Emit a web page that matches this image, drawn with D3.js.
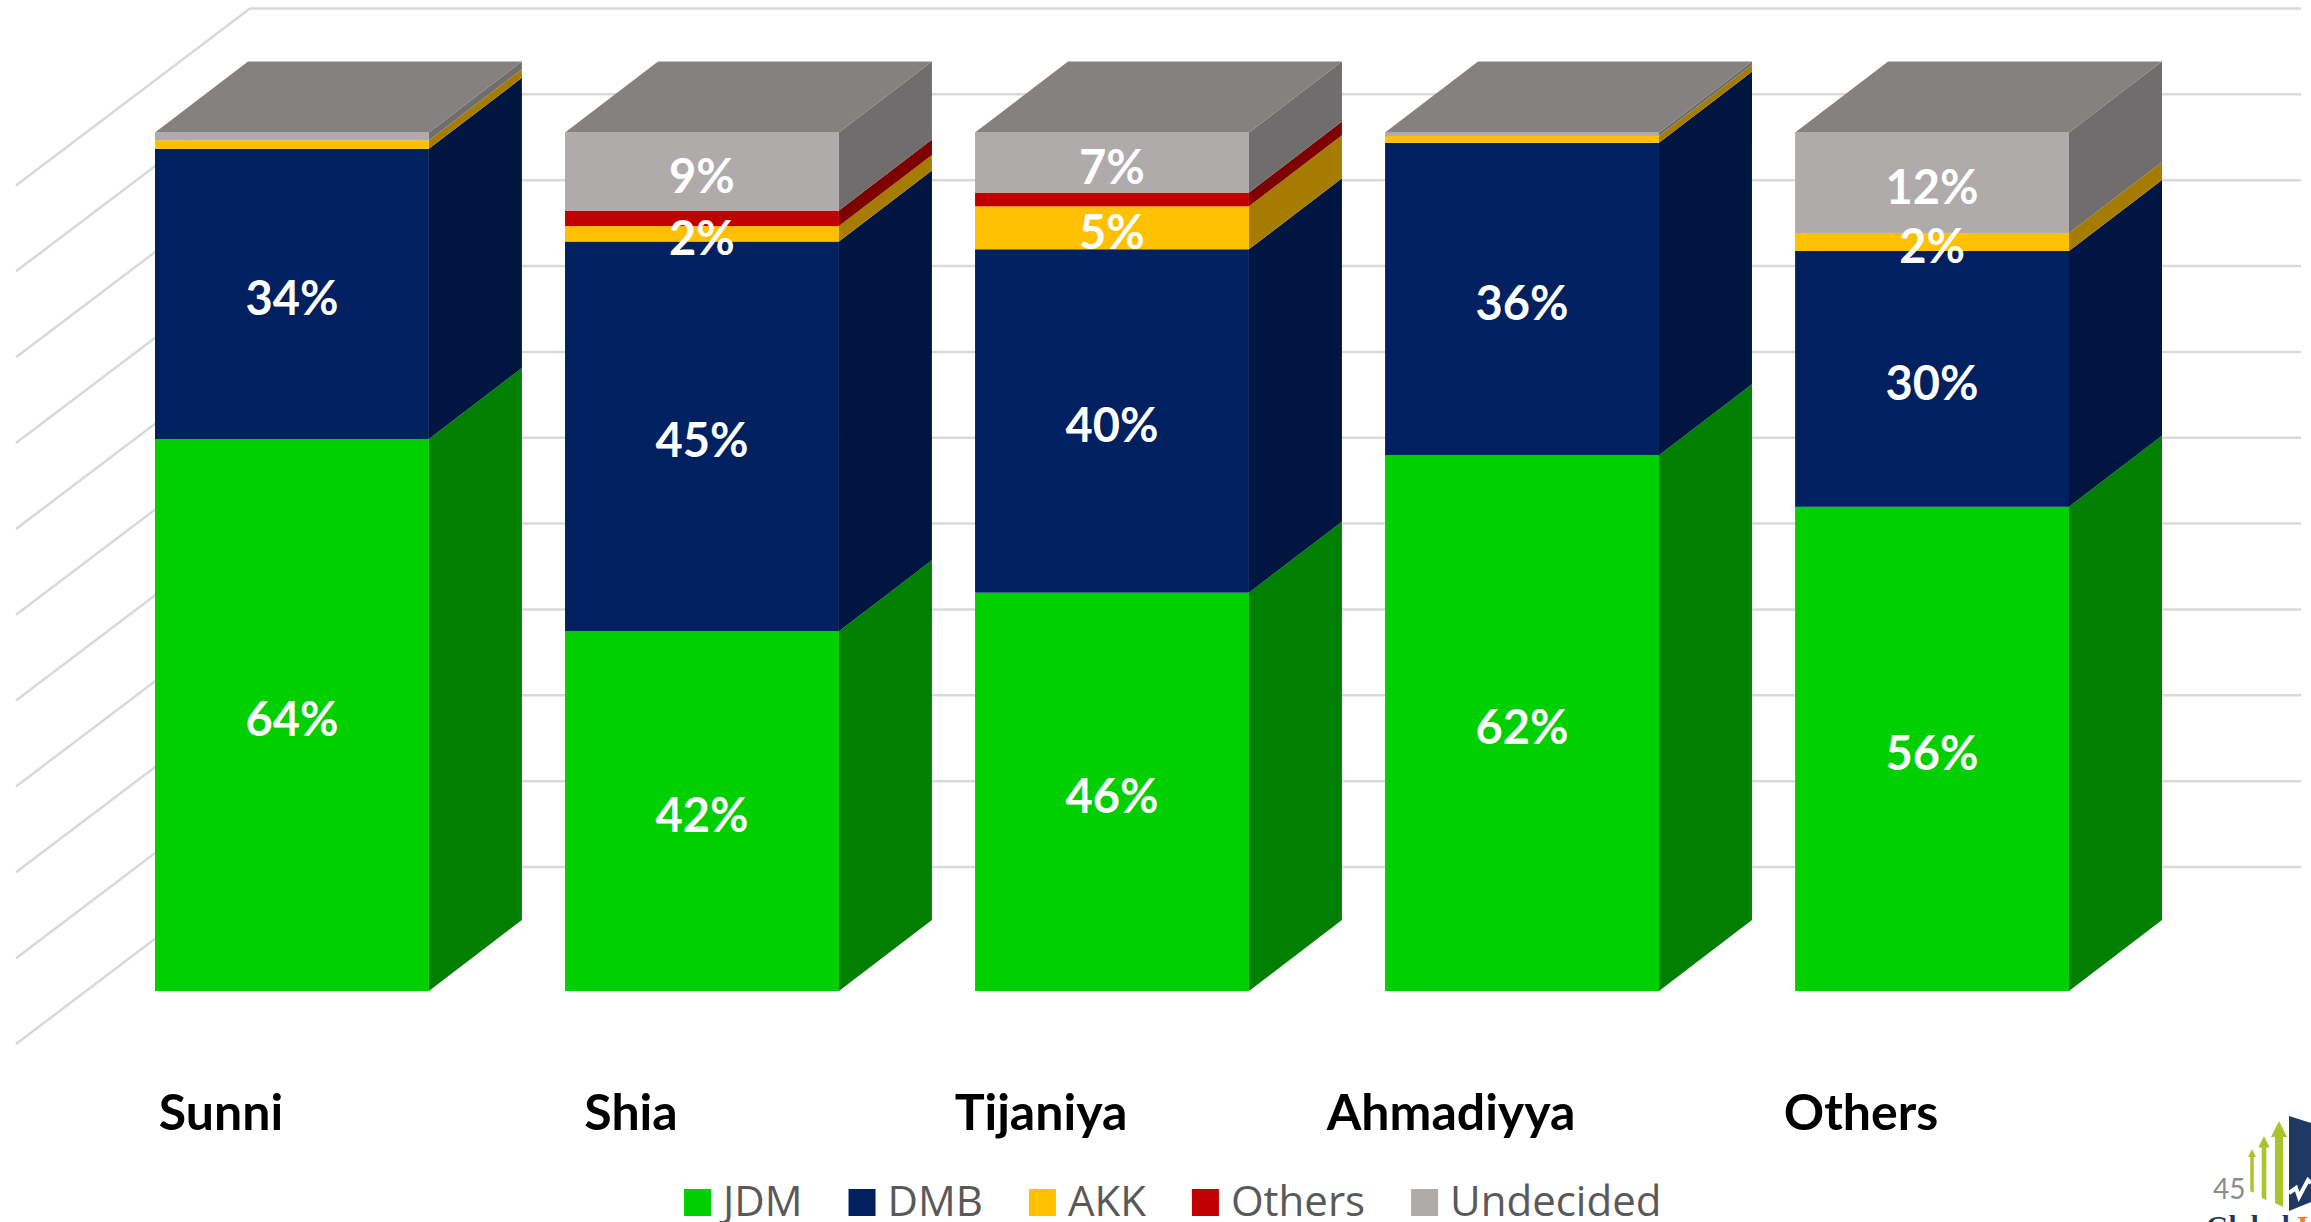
<!DOCTYPE html>
<html>
<head>
<meta charset="utf-8">
<script src="https://cdn.jsdelivr.net/npm/d3@7"></script>
<style>
html, body { margin: 0; padding: 0; background: #fff; overflow: hidden; }
svg { display: block; }
text { font-family: Lato, "Open Sans", sans-serif; }
</style>
</head>
<body>
<div class="chart-container"></div>
<script>
// data (percent of each group)
const groups = ['Sunni', 'Shia', 'Tijaniya', 'Ahmadiyya', 'Others'];
const seriesNames = ['JDM', 'DMB', 'AKK', 'Others', 'Undecided'];
const jdm = [64.3, 41.9, 46.4, 62.4, 56.4];
const dmb = [33.8, 45.4, 40.0, 36.4, 29.8];
const akk = [1.0, 1.8, 5.0, 0.8, 2.1];
const others = [0, 1.8, 1.6, 0, 0];
const undecided = [0.9, 9.1, 7.0, 0.4, 11.7];
const pageNumber = '45';

const frontColors = ['#00cf00', '#002060', '#ffc000', '#c00000', '#afabab'];
const sideColors = ['#007f00', '#00153f', '#a67c00', '#7f0000', '#6f6d6d'];
const topColor = '#85817f';

const svg_width = 2311;
const svg_height = 1222;

// depth of the fake 3d boxes
const depth = { x: 93, y: 71 };
// the grid sits on its own wall, further back than the boxes
const wall = { back: -124, front: 53, left: 16, right: 2301, corner: 250 };

const rows = groups.map((g, i) => ({
    group: g, JDM: jdm[i], DMB: dmb[i], AKK: akk[i], Others: others[i], Undecided: undecided[i]
}));
const stacked = d3.stack().keys(seriesNames)(rows);

const xScale = d3.scaleBand().domain(groups).range([155, 2069]).paddingInner(0.332);
const yScale = d3.scaleLinear().domain([0, 100]).range([991, 132.5]);

const this_svg = d3.select('.chart-container').append('svg')
    .attr('width', svg_width).attr('height', svg_height);

// grid
const grid = this_svg.append('g').attr('class', 'grid')
    .attr('fill', 'none').attr('stroke', '#d9d9d9').attr('stroke-width', 2.5);
grid.selectAll('polyline')
    .data(yScale.ticks(10))
    .enter()
    .append('polyline')
    .attr('points', d => [
        [wall.left, yScale(d) + wall.front],
        [wall.corner, yScale(d) + wall.back],
        [wall.right, yScale(d) + wall.back]
    ].join(' '));

// boxes
const poly = pts => pts.map(p => p.join(',')).join(' ');
const layers = this_svg.selectAll('.layer')
    .data(stacked)
    .enter()
    .append('g')
    .attr('class', 'layer');

layers.selectAll('.side')
    .data(d => d.map(s => ({ s, i: d.index })))
    .enter()
    .filter(d => d.s[1] > d.s[0])
    .append('polygon')
    .attr('class', 'side')
    .attr('fill', d => sideColors[d.i])
    .attr('points', d => {
        const x1 = xScale(d.s.data.group) + xScale.bandwidth();
        return poly([
            [x1, yScale(d.s[0])],
            [x1 + depth.x, yScale(d.s[0]) - depth.y],
            [x1 + depth.x, yScale(d.s[1]) - depth.y],
            [x1, yScale(d.s[1])]
        ]);
    });

layers.selectAll('.front')
    .data(d => d.map(s => ({ s, i: d.index })))
    .enter()
    .filter(d => d.s[1] > d.s[0])
    .append('rect')
    .attr('class', 'front')
    .attr('fill', d => frontColors[d.i])
    .attr('x', d => xScale(d.s.data.group))
    .attr('width', xScale.bandwidth())
    .attr('y', d => yScale(d.s[1]))
    .attr('height', d => yScale(d.s[0]) - yScale(d.s[1]));

// top faces
this_svg.selectAll('.top-face')
    .data(groups)
    .enter()
    .append('polygon')
    .attr('class', 'top-face')
    .attr('fill', topColor)
    .attr('points', d => {
        const x0 = xScale(d), x1 = x0 + xScale.bandwidth(), y = yScale(100);
        return poly([[x0, y], [x0 + depth.x, y - depth.y], [x1 + depth.x, y - depth.y], [x1, y]]);
    });

// value labels (the Others series and tiny slices carry none)
const labelData = stacked.flatMap(layer => layer.map(s => ({ key: layer.key, s })))
    .filter(d => d.key !== 'Others' && d.s[1] - d.s[0] >= 1.5);
this_svg.selectAll('.value-label')
    .data(labelData)
    .enter()
    .append('text')
    .attr('class', 'value-label')
    .attr('x', d => xScale(d.s.data.group) + xScale.bandwidth() / 2)
    .attr('y', d => yScale((d.s[0] + d.s[1]) / 2) + 21)
    .attr('text-anchor', 'middle')
    .style('font-size', '47px')
    .style('font-weight', 700)
    .style('fill', '#fff')
    .text(d => Math.round(d.s[1] - d.s[0]) + '%');

// category labels
const xAxis = d3.axisBottom(xScale).tickSize(0).tickPadding(0);
const xAxisDraw = this_svg.append('g').attr('class', 'x axis')
    .attr('transform', 'translate(-71,1130)').call(xAxis);
xAxisDraw.select('.domain').remove();
xAxisDraw.selectAll('text')
    .attr('y', 0).attr('dy', 0)
    .style('font-family', 'Lato, sans-serif')
    .style('font-size', '50px')
    .style('font-weight', 700)
    .style('fill', '#000');

// legend, laid out left to right from the measured text
const legend = this_svg.append('g').attr('class', 'legend');
let legendX = 684;
seriesNames.forEach((name, i) => {
    legend.append('rect')
        .attr('x', legendX).attr('y', 1189).attr('width', 27).attr('height', 27)
        .attr('fill', frontColors[i]);
    const label = legend.append('text')
        .attr('x', legendX + 39).attr('y', 1216)
        .style('font-family', '"Open Sans", sans-serif')
        .style('font-size', '42px')
        .style('fill', '#595959')
        .text(name);
    legendX += 39 + label.node().getComputedTextLength() + 46;
});

// page number and the logo in the corner
this_svg.append('text')
    .attr('x', 2213).attr('y', 1199)
    .style('font-size', '28px')
    .style('fill', '#8c8c8c')
    .text(pageNumber);

const logo = this_svg.append('g').attr('class', 'logo');
logo.selectAll('.arrow')
    .data([
        [2252, 1149, 4, 1.7, 1192],
        [2264, 1136, 5.7, 2.3, 1199],
        [2279, 1121, 8, 4, 1205]
    ])
    .enter()
    .append('polygon')
    .attr('class', 'arrow')
    .attr('fill', '#a8c52c')
    .attr('points', ([x, top, head, shaft, bottom]) => poly([
        [x, top], [x + head, top + head * 2], [x + shaft, top + head * 2],
        [x + shaft, bottom + shaft * 0.5], [x - shaft, bottom - shaft * 0.5],
        [x - shaft, top + head * 2], [x - head, top + head * 2]
    ]));
logo.append('polygon')
    .attr('fill', '#1f3864')
    .attr('points', poly([[2289, 1116], [2311, 1123], [2311, 1202], [2289, 1211]]));
logo.append('polyline')
    .attr('fill', 'none').attr('stroke', '#fff').attr('stroke-width', 4)
    .attr('points', poly([[2289, 1193], [2296, 1188], [2299, 1197], [2308, 1180], [2311, 1183]]));
const logoText = logo.append('text')
    .attr('x', 2206).attr('y', 1236)
    .style('font-family', '"Liberation Serif", serif')
    .style('font-size', '29px')
    .style('font-weight', 700);
logoText.append('tspan').attr('fill', '#1f3864').text('Global ');
logoText.append('tspan').attr('fill', '#ed7d31').text('Info');
</script>
</body>
</html>
